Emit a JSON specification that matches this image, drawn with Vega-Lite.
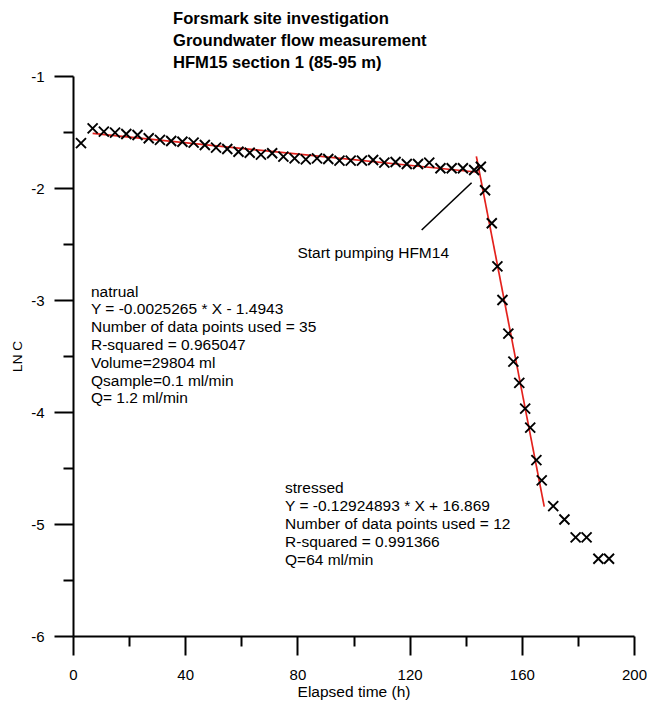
{
  "$schema": "https://vega.github.io/schema/vega-lite/v6.json",
  "width": 561,
  "height": 560,
  "autosize": {"type": "none"},
  "padding": {"left": 73, "top": 76, "right": 13, "bottom": 68},
  "background": "white",
  "config": {
    "font": "Liberation Sans",
    "view": {"stroke": null}
  },
  "title": {
    "text": ["Forsmark site investigation", "Groundwater flow measurement", "HFM15 section 1 (85-95 m)"],
    "anchor": "start",
    "frame": "group",
    "dx": 100,
    "fontSize": 16.6,
    "fontWeight": "bold",
    "font": "Liberation Sans",
    "lineHeight": 22,
    "offset": -3,
    "color": "black"
  },
  "datasets": {
    "points": [
      {"t": 2.85, "v": -1.6},
      {"t": 7, "v": -1.467}, {"t": 11, "v": -1.497}, {"t": 15, "v": -1.506}, {"t": 19, "v": -1.518},
      {"t": 23, "v": -1.527}, {"t": 27, "v": -1.556}, {"t": 31, "v": -1.571}, {"t": 35, "v": -1.58},
      {"t": 39, "v": -1.587}, {"t": 43, "v": -1.595}, {"t": 47, "v": -1.616}, {"t": 51, "v": -1.64},
      {"t": 55, "v": -1.652}, {"t": 59, "v": -1.676}, {"t": 63, "v": -1.685}, {"t": 67, "v": -1.702},
      {"t": 71, "v": -1.69}, {"t": 75, "v": -1.72}, {"t": 79, "v": -1.735}, {"t": 83, "v": -1.744},
      {"t": 87, "v": -1.735}, {"t": 91, "v": -1.741}, {"t": 95, "v": -1.756}, {"t": 99, "v": -1.756},
      {"t": 103, "v": -1.756}, {"t": 107, "v": -1.75}, {"t": 111, "v": -1.774}, {"t": 115, "v": -1.768},
      {"t": 119, "v": -1.786}, {"t": 123, "v": -1.786}, {"t": 127, "v": -1.774}, {"t": 131, "v": -1.824},
      {"t": 135, "v": -1.824}, {"t": 139, "v": -1.824}, {"t": 143, "v": -1.839},
      {"t": 145.4, "v": -1.81}, {"t": 146.9, "v": -2.02}, {"t": 149.3, "v": -2.315}, {"t": 151.3, "v": -2.7},
      {"t": 153.1, "v": -3.0}, {"t": 155.2, "v": -3.3}, {"t": 157.0, "v": -3.55}, {"t": 159.1, "v": -3.74},
      {"t": 161.2, "v": -3.97}, {"t": 163.0, "v": -4.14}, {"t": 165.2, "v": -4.43}, {"t": 167.1, "v": -4.61},
      {"t": 171.2, "v": -4.84}, {"t": 175.2, "v": -4.96}, {"t": 179.2, "v": -5.12}, {"t": 183.1, "v": -5.12},
      {"t": 187.3, "v": -5.31}, {"t": 191.1, "v": -5.31}
    ],
    "fits": [
      {"seg": "natural", "t": 7, "v": -1.512},
      {"seg": "natural", "t": 144.5, "v": -1.8594},
      {"seg": "stressed", "t": 143.8, "v": -1.717},
      {"seg": "stressed", "t": 168, "v": -4.845}
    ],
    "pointer": [
      {"t": 124.3, "v": -2.375, "t2": 142.1, "v2": -1.953}
    ],
    "notes": [
      {"t": 6.4, "v": -2.863, "label": "natrual\nY = -0.0025265 * X - 1.4943\nNumber of data points used = 35\nR-squared = 0.965047\nVolume=29804 ml\nQsample=0.1 ml/min\nQ= 1.2 ml/min"},
      {"t": 75.6, "v": -4.62, "label": "stressed\nY = -0.12924893 * X + 16.869\nNumber of data points used = 12\nR-squared = 0.991366\nQ=64 ml/min"},
      {"t": 80, "v": -2.517, "label": "Start pumping HFM14"}
    ]
  },
  "encoding": {
    "x": {
      "field": "t",
      "type": "quantitative",
      "scale": {"domain": [0, 200], "nice": false, "zero": false},
      "axis": {
        "values": [0, 20, 40, 60, 80, 100, 120, 140, 160, 180, 200],
        "labelExpr": "datum.value % 40 === 0 ? '' + datum.value : ''",
        "tickSize": {"condition": {"test": "datum.value % 40 === 0", "value": 19}, "value": 10},
        "grid": false,
        "domainColor": "black",
        "tickColor": "black",
        "domainWidth": 2,
        "tickWidth": 2,
        "labelFontSize": 15,
        "labelColor": "black",
        "labelFont": "Liberation Sans",
        "labelPadding": 12,
        "labelFlush": false,
        "labelOverlap": false,
        "title": "Elapsed time (h)",
        "titleFont": "Liberation Sans",
        "titleFontSize": 15.5,
        "titleFontWeight": "normal",
        "titleColor": "black",
        "titlePadding": 2
      }
    },
    "y": {
      "field": "v",
      "type": "quantitative",
      "scale": {"domain": [-6, -1], "nice": false, "zero": false},
      "axis": {
        "values": [-6, -5.5, -5, -4.5, -4, -3.5, -3, -2.5, -2, -1.5, -1],
        "labelExpr": "datum.value % 1 === 0 ? '' + datum.value : ''",
        "tickSize": {"condition": {"test": "datum.value % 1 === 0", "value": 19}, "value": 10},
        "grid": false,
        "domainColor": "black",
        "tickColor": "black",
        "domainWidth": 2,
        "tickWidth": 2,
        "labelFontSize": 15,
        "labelColor": "black",
        "labelFont": "Liberation Sans",
        "labelPadding": 10,
        "labelFlush": false,
        "labelOverlap": false,
        "title": "LN C",
        "titleFont": "Liberation Sans",
        "titleFontSize": 13.5,
        "titleFontWeight": "normal",
        "titleColor": "black",
        "titlePadding": 6
      }
    }
  },
  "layer": [
    {
      "data": {"name": "fits"},
      "mark": {"type": "line", "color": "#e3211c", "strokeWidth": 1.7},
      "encoding": {"detail": {"field": "seg", "type": "nominal"}}
    },
    {
      "data": {"name": "pointer"},
      "mark": {"type": "rule", "color": "black", "strokeWidth": 1.6},
      "encoding": {
        "x2": {"field": "t2"},
        "y2": {"field": "v2"}
      }
    },
    {
      "data": {"name": "points"},
      "mark": {
        "type": "point",
        "shape": "M-1,-1L1,1M-1,1L1,-1",
        "size": 100,
        "filled": false,
        "stroke": "black",
        "strokeWidth": 1.9,
        "opacity": 1
      }
    },
    {
      "data": {"name": "notes"},
      "mark": {
        "type": "text",
        "align": "left",
        "baseline": "top",
        "lineBreak": "\n",
        "fontSize": 15.5,
        "lineHeight": 17.8,
        "font": "Liberation Sans",
        "color": "black"
      },
      "encoding": {"text": {"field": "label"}}
    }
  ]
}
